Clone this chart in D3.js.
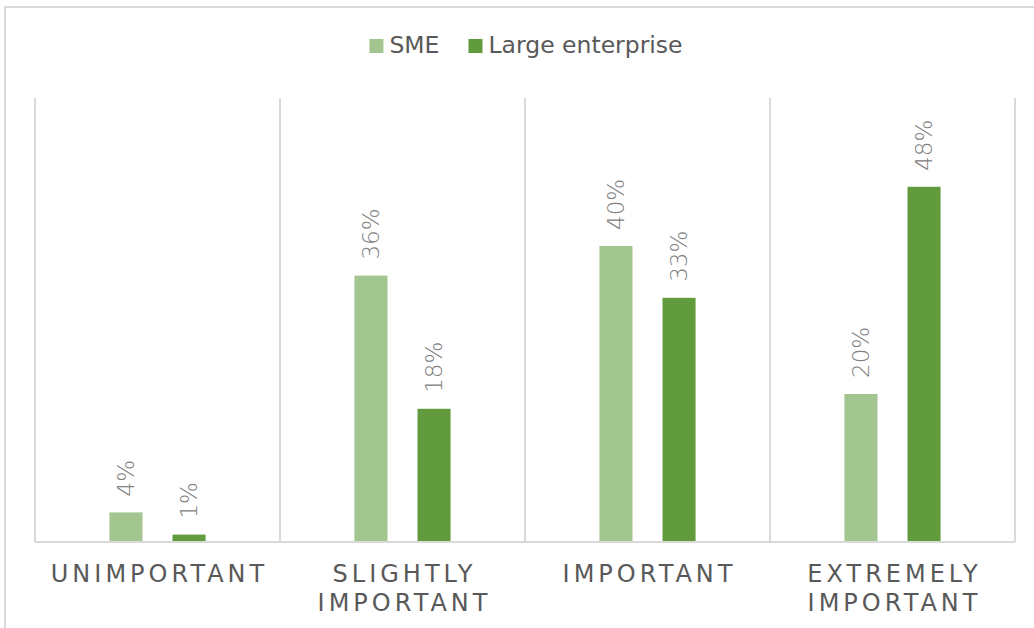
<!DOCTYPE html>
<html>
<head>
<meta charset="utf-8">
<script src="https://cdn.jsdelivr.net/npm/d3@7"></script>
<style>
  html, body { margin: 0; padding: 0; background: #fff; }
  svg { display: block; }
</style>
</head>
<body>
<svg id="chart" width="1034" height="628"></svg>
<script>
// Importance ratings by company size (share of respondents, %)
const categories = [["UNIMPORTANT"], ["SLIGHTLY", "IMPORTANT"], ["IMPORTANT"], ["EXTREMELY", "IMPORTANT"]];
const seriesNames = ["SME", "Large enterprise"];
const smeValues = [4, 36, 40, 20];
const largeValues = [1, 18, 33, 48];
const seriesColors = ["#A3C58F", "#629A3E"];

const W = 1034, H = 628;
const svg = d3.select("#chart");
const font = "'DejaVu Sans', sans-serif";

// outer chart frame (runs past the right and bottom edges)
svg.append("rect")
  .attr("x", 5).attr("y", 7)
  .attr("width", 1060).attr("height", 660)
  .attr("fill", "#fff")
  .attr("stroke", "#d9d9d9").attr("stroke-width", 2);

const plot = { left: 35, right: 1015, top: 98, bottom: 542 };
const catKeys = categories.map(c => c.join(" "));

const x = d3.scaleBand()
  .domain(catKeys)
  .range([plot.left, plot.right])
  .paddingInner(0).paddingOuter(0);

const xs = d3.scaleBand()
  .domain(seriesNames)
  .range([0, x.bandwidth()])
  .paddingInner(0.476)
  .paddingOuter(1.18);

const y = d3.scaleLinear().domain([0, 60]).range([plot.bottom, plot.top]);

// vertical separators between categories
const bounds = catKeys.map(k => x(k)).concat([plot.right]);
svg.append("g").selectAll("line")
  .data(bounds)
  .join("line")
  .attr("x1", d => d).attr("x2", d => d)
  .attr("y1", plot.top).attr("y2", plot.bottom)
  .attr("stroke", "#d9d9d9").attr("stroke-width", 2);

// baseline
svg.append("line")
  .attr("x1", plot.left).attr("x2", plot.right)
  .attr("y1", y(0)).attr("y2", y(0))
  .attr("stroke", "#d9d9d9").attr("stroke-width", 2);

const rows = [];
catKeys.forEach((k, i) => {
  rows.push({ cat: k, series: seriesNames[0], value: smeValues[i], color: seriesColors[0] });
  rows.push({ cat: k, series: seriesNames[1], value: largeValues[i], color: seriesColors[1] });
});

// bars
svg.append("g").selectAll("rect")
  .data(rows)
  .join("rect")
  .attr("x", d => x(d.cat) + xs(d.series))
  .attr("width", xs.bandwidth())
  .attr("y", d => y(d.value))
  .attr("height", d => y(0) - y(d.value) - 1)
  .attr("fill", d => d.color);

// rotated value labels above bars
svg.append("g").selectAll("text")
  .data(rows)
  .join("text")
  .attr("transform", d => {
    const cx = x(d.cat) + xs(d.series) + xs.bandwidth() / 2;
    const cy = y(d.value) - 16;
    return `translate(${cx},${cy}) rotate(-90)`;
  })
  .attr("text-anchor", "start")
  .attr("dominant-baseline", "central")
  .attr("font-family", font)
  .attr("font-size", 23)
  .attr("font-weight", 200)
  .attr("fill", "#808080")
  .text(d => d.value + "%");

// category labels
const ls = 4;
const catG = svg.append("g");
categories.forEach((lines, i) => {
  const cx = x(catKeys[i]) + x.bandwidth() / 2 + ls / 2;
  lines.forEach((ln, j) => {
    catG.append("text")
      .attr("x", cx)
      .attr("y", 582 + j * 29)
      .attr("text-anchor", "middle")
      .attr("font-family", font)
      .attr("font-size", 24)
      .attr("letter-spacing", ls)
      .attr("fill", "#595959")
      .text(ln);
  });
});

// legend, centred above the plot
const legend = svg.append("g");
const sw = 14, gapText = 6, gapItem = 29;
const items = seriesNames.map((name, i) => {
  const g = legend.append("g");
  g.append("rect").attr("width", sw).attr("height", sw).attr("y", -14).attr("fill", seriesColors[i]);
  const t = g.append("text")
    .attr("x", sw + gapText)
    .attr("font-family", font).attr("font-size", 23.5)
    .attr("fill", "#595959")
    .text(name);
  return { g, w: sw + gapText + t.node().getComputedTextLength() };
});
const total = d3.sum(items, d => d.w) + gapItem * (items.length - 1);
let lx = 526 - total / 2;
items.forEach(it => {
  it.g.attr("transform", `translate(${lx},53)`);
  lx += it.w + gapItem;
});
</script>
</body>
</html>
